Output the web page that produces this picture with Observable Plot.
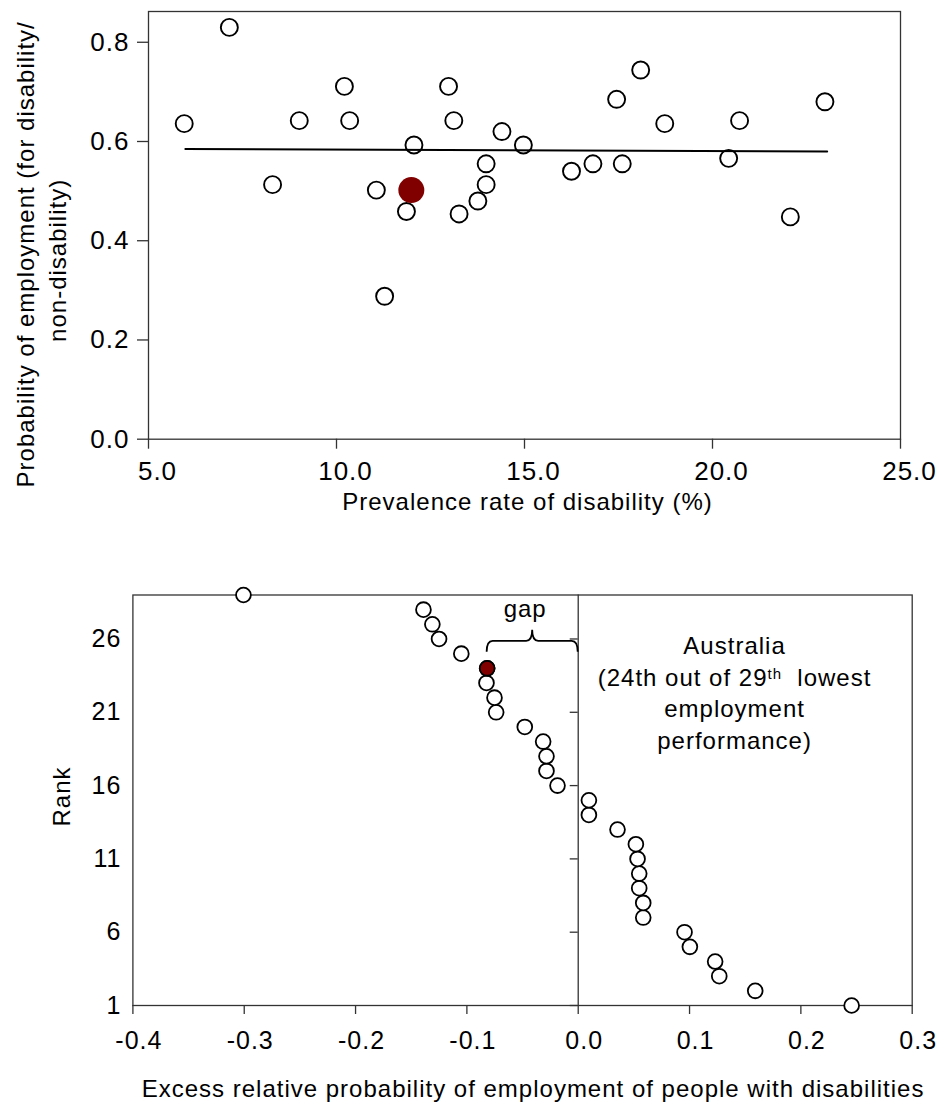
<!DOCTYPE html>
<html>
<head>
<meta charset="utf-8">
<script src="https://cdn.jsdelivr.net/npm/d3@7"></script>
<script src="https://cdn.jsdelivr.net/npm/@observablehq/plot@0.6"></script>
<style>
  html, body { margin: 0; padding: 0; background: #fff; }
  #chart { width: 939px; }
  #chart svg { display: block; }
</style>
</head>
<body>
<div id="chart"></div>
<script>
// ---------- Top panel data ----------
const prevalence = [5.95, 7.15, 8.30, 9.01, 10.21, 10.35, 11.06, 11.28, 11.86, 12.06, 12.98, 13.12, 13.26, 13.76,
  13.98, 13.98, 14.40, 14.97, 16.25, 16.82, 17.45, 17.60, 18.09, 18.73, 20.43, 20.72, 22.07, 22.99];
const employmentRatio = [0.636, 0.830, 0.513, 0.642, 0.711, 0.642, 0.502, 0.288, 0.459, 0.593, 0.711, 0.642, 0.454, 0.480,
  0.513, 0.555, 0.620, 0.593, 0.540, 0.555, 0.685, 0.555, 0.744, 0.636, 0.566, 0.642, 0.448, 0.680];
const ausPrevalence = [11.99];
const ausRatio = [0.502];
const fitLineX = [5.98, 23.05];
const fitLineY = [0.585, 0.580];
const topXTicks = [5, 10, 15, 20, 25];
const topYTicks = [0, 0.2, 0.4, 0.6, 0.8];
const topXTitle = "Prevalence rate of disability (%)";
const topYTitle = ["Probability of employment (for disability/", "non-disability)"];

// ---------- Bottom panel data ----------
const ranks = [1, 2, 3, 4, 5, 6, 7, 8, 9, 10, 11, 12, 13, 14, 15, 16, 17, 18, 19, 20, 21, 22, 23, 24, 25, 26, 27, 28, 29];
const excess = [0.2456, 0.159, 0.1267, 0.123, 0.1003, 0.0955, 0.0584, 0.0584, 0.0548, 0.0548, 0.0533, 0.0518, 0.0353,
  0.0096, 0.0096, -0.0186, -0.0285, -0.0285, -0.0315, -0.048, -0.0737, -0.0752, -0.0824, -0.0818, -0.105, -0.125,
  -0.131, -0.139, -0.3007];
const ausRank = 24;
const ausExcess = excess[ausRank - 1];
const zeroLine = [0];
const rankTicks = [1, 6, 11, 16, 21, 26];
const bottomXTicks = [-0.4, -0.3, -0.2, -0.1, 0, 0.1, 0.2, 0.3];
const bottomXTitle = "Excess relative probability of employment of people with disabilities";
const bottomYTitle = "Rank";
const gapLabel = "gap";
const annotLine2 = ["(24th out of 29", "th", "  lowest"];
const annotLines = ["Australia", annotLine2.join(""), "employment", "performance)"];

// ---------- Styling ----------
const FONT = "'Liberation Sans', Arial, Helvetica, sans-serif";
const AXIS = "#333";
const AUS_COLOR = "#800000";
const baseStyle = {
  fontFamily: FONT, fontSize: "24px", letterSpacing: "1px",
  color: "#000", background: "#fff", overflow: "visible"
};
const fmt1 = d => (+d).toFixed(1);

// ---------- Top panel ----------
const topChart = Plot.plot({
  width: 939, height: 540,
  marginTop: 11, marginRight: 39, marginBottom: 101.3, marginLeft: 148,
  x: {domain: [5, 25]},
  y: {domain: [0, 0.862]},
  style: baseStyle,
  marks: [
    Plot.frame({stroke: AXIS, strokeWidth: 1.3}),
    Plot.axisX({ticks: topXTicks, tickSize: 10, tickFormat: () => "", label: null, stroke: AXIS, strokeWidth: 1.3}),
    Plot.axisX({ticks: topXTicks, tickSize: 0, tickPadding: 22, dx: 9, fontSize: 26, tickFormat: fmt1, label: null}),
    Plot.axisY({ticks: topYTicks, tickSize: 11, tickPadding: 8, fontSize: 26, tickFormat: fmt1, label: null, stroke: AXIS, strokeWidth: 1.3}),
    Plot.dot(prevalence, {x: prevalence, y: employmentRatio, r: 8.5, fill: "white", stroke: "black", strokeWidth: 1.9}),
    Plot.line(fitLineX, {x: fitLineX, y: fitLineY, stroke: "black", strokeWidth: 2}),
    Plot.dot(ausPrevalence, {x: ausPrevalence, y: ausRatio, r: 13, fill: AUS_COLOR}),
    Plot.text([topXTitle], {frameAnchor: "bottom", lineAnchor: "top", textAnchor: "middle", dx: 3, dy: 53.3}),
    Plot.text([topYTitle[0]], {frameAnchor: "left", textAnchor: "middle", rotate: -90, dx: -122.4, dy: 29}),
    Plot.text([topYTitle[1]], {frameAnchor: "left", textAnchor: "middle", rotate: -90, dx: -90.4, dy: 35})
  ]
});

// ---------- Bottom panel ----------
function gapBrace(index, scales) {
  const sx = scales.x, sy = scales.y;
  const x1 = sx(ausExcess), x2 = sx(zeroLine[0]);
  const yb = sy(ausRank) - 16, ym = yb - 11, yt = yb - 22, r = 6, mx = (x1 + x2) / 2;
  const p = document.createElementNS("http://www.w3.org/2000/svg", "path");
  p.setAttribute("d",
    `M${x1},${yb}Q${x1},${ym} ${x1 + r},${ym}L${mx - r},${ym}Q${mx},${ym} ${mx},${yt}` +
    `Q${mx},${ym} ${mx + r},${ym}L${x2 - r},${ym}Q${x2},${ym} ${x2},${yb}`);
  p.setAttribute("fill", "none");
  p.setAttribute("stroke", "black");
  p.setAttribute("stroke-width", "1.8");
  return p;
}

const bottomChart = Plot.plot({
  width: 939, height: 562,
  marginTop: 54.5, marginRight: 27.3, marginBottom: 97, marginLeft: 132.4,
  x: {domain: [-0.4, 0.3]},
  y: {domain: [1, 29]},
  style: baseStyle,
  marks: [
    Plot.frame({stroke: AXIS, strokeWidth: 1.3}),
    Plot.ruleX(zeroLine, {x: d => d, stroke: AXIS, strokeWidth: 1.3}),
    Plot.ruleY(rankTicks, {y: d => d, x1: zeroLine[0], x2: zeroLine[0], insetLeft: -8, stroke: AXIS, strokeWidth: 1.3}),
    Plot.axisX({ticks: bottomXTicks, tickSize: 9, tickFormat: () => "", label: null, stroke: AXIS, strokeWidth: 1.3}),
    Plot.axisX({ticks: bottomXTicks, tickSize: 0, tickPadding: 25.5, dx: 6, fontSize: 25, tickFormat: fmt1, label: null}),
    Plot.axisY({ticks: rankTicks, tickSize: 0, tickPadding: 11.5, fontSize: 25, tickFormat: d => String(d), label: null}),
    Plot.dot(ranks, {x: excess, y: ranks, r: 7.4, fill: "white", stroke: "black", strokeWidth: 1.8}),
    Plot.dot([ausRank], {x: [ausExcess], y: [ausRank], r: 7.4, fill: AUS_COLOR, stroke: "black", strokeWidth: 1.8}),
    gapBrace,
    Plot.text([gapLabel], {x: () => (ausExcess + zeroLine[0]) / 2, y: () => ausRank, textAnchor: "middle", dx: -7.5, dy: -58.8}),
    Plot.text([annotLines.join("\n")], {frameAnchor: "top", lineAnchor: "top", textAnchor: "middle", lineHeight: 1.3125, dx: 212, dy: 36.8}),
    Plot.text([bottomXTitle], {frameAnchor: "bottom", lineAnchor: "top", textAnchor: "middle", dx: 10.5, dy: 74}),
    Plot.text([bottomYTitle], {frameAnchor: "left", textAnchor: "middle", rotate: -90, dx: -70.8, dy: -3.75})
  ]
});

// superscript "th" in the annotation
bottomChart.querySelectorAll("text").forEach(t => {
  t.querySelectorAll("tspan").forEach(ts => {
    if (ts.textContent === annotLines[1]) {
      t.style.whiteSpace = "pre";
      while (ts.firstChild) ts.removeChild(ts.firstChild);
      ts.appendChild(document.createTextNode(annotLine2[0]));
      const sup = document.createElementNS("http://www.w3.org/2000/svg", "tspan");
      sup.setAttribute("dy", "-7");
      sup.setAttribute("font-size", "15px");
      sup.textContent = annotLine2[1];
      ts.appendChild(sup);
      const rest = document.createElementNS("http://www.w3.org/2000/svg", "tspan");
      rest.setAttribute("dy", "7");
      rest.textContent = annotLine2[2];
      ts.appendChild(rest);
    }
  });
});

const root = document.getElementById("chart");
root.appendChild(topChart);
root.appendChild(bottomChart);
</script>
</body>
</html>
